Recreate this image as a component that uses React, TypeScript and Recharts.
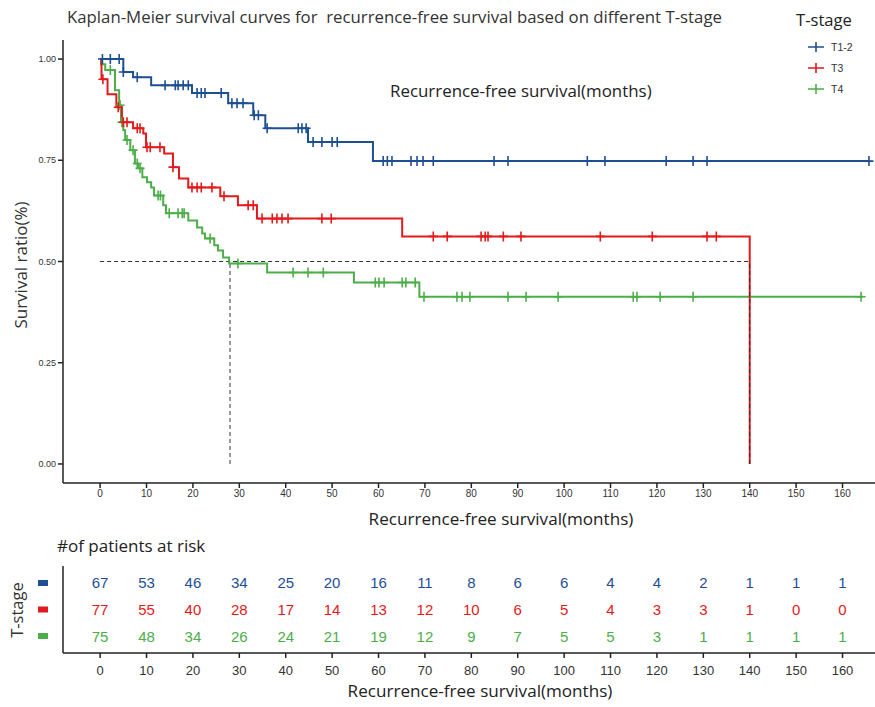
import React from "react";
import {
  ComposedChart,
  Line,
  Scatter,
  XAxis,
  YAxis,
  ReferenceLine,
} from "recharts";

// ---------- data ----------
const monthTicks = [0, 10, 20, 30, 40, 50, 60, 70, 80, 90, 100, 110, 120, 130, 140, 150, 160];
const survTicks = [0, 0.25, 0.5, 0.75, 1];

// step points (time in months, survival)
const t12Steps = [
  { t: 0, s: 1.0 }, { t: 5.0, s: 0.968 }, { t: 7.1, s: 0.955 }, { t: 11.0, s: 0.935 },
  { t: 19.8, s: 0.916 }, { t: 27.6, s: 0.891 }, { t: 33.0, s: 0.861 }, { t: 35.6, s: 0.829 },
  { t: 44.8, s: 0.795 }, { t: 58.8, s: 0.748 }, { t: 166, s: 0.748 },
];
const t12Censor = [
  { t: 0.5, s: 1.0 }, { t: 2.2, s: 1.0 }, { t: 4.1, s: 1.0 }, { t: 5.0, s: 0.968 }, { t: 8.0, s: 0.955 },
  { t: 14.0, s: 0.935 }, { t: 16.2, s: 0.935 }, { t: 16.8, s: 0.935 }, { t: 17.9, s: 0.935 }, { t: 19.0, s: 0.935 },
  { t: 20.9, s: 0.916 }, { t: 21.8, s: 0.916 }, { t: 22.6, s: 0.916 }, { t: 26.1, s: 0.916 },
  { t: 28.4, s: 0.891 }, { t: 29.5, s: 0.891 }, { t: 30.8, s: 0.891 },
  { t: 33.2, s: 0.861 }, { t: 34.1, s: 0.861 },
  { t: 36.0, s: 0.829 }, { t: 42.7, s: 0.829 }, { t: 43.5, s: 0.829 }, { t: 44.4, s: 0.829 },
  { t: 45.9, s: 0.795 }, { t: 47.8, s: 0.795 }, { t: 50.0, s: 0.795 }, { t: 51.1, s: 0.795 },
  { t: 61.0, s: 0.748 }, { t: 61.9, s: 0.748 }, { t: 62.9, s: 0.748 }, { t: 67.0, s: 0.748 },
  { t: 68.3, s: 0.748 }, { t: 69.6, s: 0.748 }, { t: 71.8, s: 0.748 }, { t: 84.9, s: 0.748 },
  { t: 87.9, s: 0.748 }, { t: 105.0, s: 0.748 }, { t: 108.8, s: 0.748 }, { t: 122.0, s: 0.748 },
  { t: 127.8, s: 0.748 }, { t: 130.8, s: 0.748 }, { t: 165.7, s: 0.748 },
];

const t3Steps = [
  { t: 0, s: 1.0 }, { t: 0.3, s: 0.95 }, { t: 1.6, s: 0.913 }, { t: 3.5, s: 0.881 },
  { t: 4.7, s: 0.844 }, { t: 7.1, s: 0.829 }, { t: 9.3, s: 0.816 }, { t: 9.9, s: 0.782 },
  { t: 13.8, s: 0.767 }, { t: 15.7, s: 0.733 }, { t: 17.0, s: 0.705 }, { t: 19.0, s: 0.683 },
  { t: 25.9, s: 0.661 }, { t: 29.7, s: 0.639 }, { t: 33.8, s: 0.606 }, { t: 65.1, s: 0.562 },
  { t: 140, s: 0 },
];
const t3Censor = [
  { t: 0.6, s: 0.95 }, { t: 3.9, s: 0.881 }, { t: 5.0, s: 0.844 }, { t: 5.8, s: 0.844 },
  { t: 8.0, s: 0.829 }, { t: 8.6, s: 0.829 }, { t: 10.1, s: 0.782 }, { t: 10.8, s: 0.782 },
  { t: 12.9, s: 0.782 }, { t: 15.7, s: 0.733 }, { t: 19.8, s: 0.683 }, { t: 20.9, s: 0.683 },
  { t: 21.8, s: 0.683 }, { t: 24.1, s: 0.683 }, { t: 26.7, s: 0.661 }, { t: 31.9, s: 0.639 },
  { t: 33.0, s: 0.639 }, { t: 34.9, s: 0.606 }, { t: 37.1, s: 0.606 }, { t: 38.1, s: 0.606 },
  { t: 39.2, s: 0.606 }, { t: 40.5, s: 0.606 }, { t: 47.8, s: 0.606 }, { t: 49.8, s: 0.606 },
  { t: 71.8, s: 0.562 }, { t: 74.8, s: 0.562 }, { t: 82.1, s: 0.562 }, { t: 83.0, s: 0.562 },
  { t: 83.6, s: 0.562 }, { t: 86.9, s: 0.562 }, { t: 90.7, s: 0.562 }, { t: 107.8, s: 0.562 },
  { t: 119.0, s: 0.562 }, { t: 130.8, s: 0.562 }, { t: 132.8, s: 0.562 },
];

const t4Steps = [
  { t: 0, s: 1.0 }, { t: 0.2, s: 0.987 }, { t: 1.1, s: 0.973 }, { t: 3.2, s: 0.923 },
  { t: 4.1, s: 0.886 }, { t: 4.5, s: 0.844 }, { t: 5.0, s: 0.824 }, { t: 5.4, s: 0.8 },
  { t: 6.5, s: 0.775 }, { t: 7.5, s: 0.742 }, { t: 8.2, s: 0.73 }, { t: 9.1, s: 0.708 },
  { t: 10.1, s: 0.696 }, { t: 11.0, s: 0.683 }, { t: 11.6, s: 0.663 }, { t: 13.6, s: 0.639 },
  { t: 14.2, s: 0.619 }, { t: 19.0, s: 0.601 }, { t: 20.9, s: 0.584 }, { t: 22.0, s: 0.569 },
  { t: 22.6, s: 0.557 }, { t: 24.6, s: 0.54 }, { t: 25.4, s: 0.527 }, { t: 26.5, s: 0.51 },
  { t: 27.8, s: 0.495 }, { t: 36.0, s: 0.473 }, { t: 54.7, s: 0.448 }, { t: 68.8, s: 0.413 },
  { t: 164.4, s: 0.413 },
];
const t4Censor = [
  { t: 2.2, s: 0.973 }, { t: 4.3, s: 0.886 }, { t: 4.7, s: 0.844 }, { t: 5.8, s: 0.8 },
  { t: 7.1, s: 0.775 }, { t: 8.0, s: 0.742 }, { t: 8.6, s: 0.73 }, { t: 12.5, s: 0.663 },
  { t: 13.0, s: 0.663 }, { t: 14.9, s: 0.619 }, { t: 16.8, s: 0.619 }, { t: 17.7, s: 0.619 },
  { t: 18.1, s: 0.619 }, { t: 23.7, s: 0.557 }, { t: 29.7, s: 0.495 }, { t: 41.6, s: 0.473 },
  { t: 44.8, s: 0.473 }, { t: 48.1, s: 0.473 }, { t: 59.3, s: 0.448 }, { t: 60.1, s: 0.448 },
  { t: 61.2, s: 0.448 }, { t: 65.1, s: 0.448 }, { t: 65.9, s: 0.448 }, { t: 67.9, s: 0.448 },
  { t: 69.8, s: 0.413 }, { t: 76.9, s: 0.413 }, { t: 78.0, s: 0.413 }, { t: 79.7, s: 0.413 },
  { t: 87.9, s: 0.413 }, { t: 91.8, s: 0.413 }, { t: 98.7, s: 0.413 }, { t: 114.9, s: 0.413 },
  { t: 115.7, s: 0.413 }, { t: 120.7, s: 0.413 }, { t: 127.8, s: 0.413 }, { t: 164.0, s: 0.413 },
];

const riskT12 = [67, 53, 46, 34, 25, 20, 16, 11, 8, 6, 6, 4, 4, 2, 1, 1, 1];
const riskT3 = [77, 55, 40, 28, 17, 14, 13, 12, 10, 6, 5, 4, 3, 3, 1, 0, 0];
const riskT4 = [75, 48, 34, 26, 24, 21, 19, 12, 9, 7, 5, 5, 3, 1, 1, 1, 1];

const medianTime = 28;
const lastT3Time = 140;

// ---------- styles ----------
const BLUE = "#1f4f93";
const RED = "#e31a1c";
const GREEN = "#4cae49";
const AXIS = "#222";
const SANS = "'Open Sans', 'Noto Sans', sans-serif";
const NARROW = "'Liberation Sans Narrow', 'Arial Narrow', 'Liberation Sans', sans-serif";

const plusShape = (color: string) => (props: any) => {
  const { cx, cy } = props;
  if (cx == null || cy == null) return <g />;
  return (
    <path
      d={`M${cx - 4.5},${cy} h9 M${cx},${cy - 5} v10`}
      stroke={color}
      strokeWidth={1.6}
      fill="none"
    />
  );
};

const numShape = (color: string) => (props: any) => {
  const { cx, cy, payload } = props;
  return (
    <text
      x={cx}
      y={cy}
      textAnchor="middle"
      dominantBaseline="central"
      fill={color}
      fontSize={15}
      fontFamily="'Liberation Sans', Arial, sans-serif"
    >
      {payload.n}
    </text>
  );
};

const rowColors: Record<number, string> = { 3: BLUE, 2: RED, 1: GREEN };
const RowTick = (props: any) => {
  const { y, payload } = props;
  return <rect x={38} y={y - 3} width={10} height={6} fill={rowColors[payload.value]} />;
};

const abs = (style: React.CSSProperties): React.CSSProperties => ({
  position: "absolute",
  whiteSpace: "nowrap",
  lineHeight: 1,
  ...style,
});

export default function App() {
  const riskData = (vals: number[], row: number) =>
    vals.map((n, i) => ({ t: monthTicks[i], row, n }));

  return (
    <div
      style={{
        position: "absolute",
        left: 0,
        top: 0,
        width: 875,
        height: 707,
        background: "#fff",
        overflow: "hidden",
      }}
    >
      <div style={abs({ left: 0, top: 0 })}>
        <ComposedChart width={875} height={530} margin={{ top: 40, right: 0, left: 0, bottom: 0 }}>
          <XAxis
            dataKey="t"
            type="number"
            domain={[-8, 167]}
            ticks={monthTicks}
            allowDataOverflow
            height={47}
            stroke={AXIS}
            strokeWidth={1.5}
            tickSize={5}
            tickMargin={2}
            tick={{ fontSize: 10, fill: "#333", fontFamily: NARROW }}
            tickLine={{ stroke: AXIS }}
          />
          <YAxis
            type="number"
            domain={[-0.047, 1.047]}
            ticks={survTicks}
            allowDataOverflow
            width={63}
            stroke={AXIS}
            strokeWidth={1.5}
            tickSize={5}
            tickMargin={2}
            tickFormatter={(v: number) => v.toFixed(2)}
            tick={{ fontSize: 9, fill: "#333", fontFamily: NARROW }}
            tickLine={{ stroke: AXIS }}
          />
          <ReferenceLine
            segment={[{ x: 0, y: 0.5 }, { x: lastT3Time, y: 0.5 }]}
            stroke="#333"
            strokeDasharray="4 3"
            strokeWidth={1}
          />
          <ReferenceLine
            segment={[{ x: medianTime, y: 0 }, { x: medianTime, y: 0.5 }]}
            stroke="#333"
            strokeDasharray="4 3"
            strokeWidth={1}
          />
          <Line data={t4Steps} dataKey="s" type="stepAfter" stroke={GREEN} strokeWidth={2} dot={false} isAnimationActive={false} />
          <Line data={t3Steps} dataKey="s" type="stepAfter" stroke={RED} strokeWidth={2} dot={false} isAnimationActive={false} />
          <Line data={t12Steps} dataKey="s" type="stepAfter" stroke={BLUE} strokeWidth={2} dot={false} isAnimationActive={false} />
          <ReferenceLine
            segment={[{ x: lastT3Time, y: 0 }, { x: lastT3Time, y: 0.5 }]}
            stroke="#333"
            strokeDasharray="4 3"
            strokeWidth={1}
          />
          <Scatter data={t4Censor} dataKey="s" shape={plusShape(GREEN)} isAnimationActive={false} />
          <Scatter data={t3Censor} dataKey="s" shape={plusShape(RED)} isAnimationActive={false} />
          <Scatter data={t12Censor} dataKey="s" shape={plusShape(BLUE)} isAnimationActive={false} />
        </ComposedChart>
      </div>

      <div style={abs({ left: 0, top: 540 })}>
        <ComposedChart width={875} height={167} margin={{ top: 26, right: 0, left: 0, bottom: 0 }}>
          <XAxis
            dataKey="t"
            type="number"
            domain={[-8, 167]}
            ticks={monthTicks}
            allowDataOverflow
            height={54}
            stroke={AXIS}
            strokeWidth={1.5}
            tickSize={5}
            tickMargin={8}
            tick={{ fontSize: 13, fill: "#333", fontFamily: NARROW }}
            tickLine={{ stroke: AXIS }}
          />
          <YAxis
            type="number"
            domain={[0.36, 3.64]}
            ticks={[1, 2, 3]}
            width={63}
            stroke={AXIS}
            strokeWidth={1.5}
            tickLine={false}
            tick={<RowTick />}
          />
          <Scatter data={riskData(riskT12, 3)} dataKey="row" shape={numShape(BLUE)} isAnimationActive={false} />
          <Scatter data={riskData(riskT3, 2)} dataKey="row" shape={numShape(RED)} isAnimationActive={false} />
          <Scatter data={riskData(riskT4, 1)} dataKey="row" shape={numShape(GREEN)} isAnimationActive={false} />
        </ComposedChart>
      </div>

      {/* texts */}
      <div style={abs({ left: 67, top: 9, fontSize: 16.8, fontFamily: SANS, color: "#333" })}>
        Kaplan-Meier survival curves for&nbsp; recurrence-free survival based on different T-stage
      </div>
      <div style={abs({ left: 796, top: 12, fontSize: 16.6, fontFamily: SANS, color: "#222" })}>T-stage</div>
      {[
        { label: "T1-2", color: BLUE, y: 47 },
        { label: "T3", color: RED, y: 68 },
        { label: "T4", color: GREEN, y: 89 },
      ].map((it) => (
        <div key={it.label} style={abs({ left: 806, top: it.y - 6, height: 12 })}>
          <svg width={20} height={12} style={{ position: "absolute", left: 0, top: 0 }}>
            <path d="M2,6 h16 M10,1 v10" stroke={it.color} strokeWidth={1.6} />
          </svg>
          <span
            style={{
              position: "absolute",
              left: 25,
              top: 0,
              fontSize: 10.5,
              lineHeight: "12px",
              fontFamily: "'Liberation Sans', Arial, sans-serif",
              color: "#333",
            }}
          >
            {it.label}
          </span>
        </div>
      ))}
      <div style={abs({ left: 390, top: 83, fontSize: 16.9, fontFamily: SANS, color: "#222" })}>
        Recurrence-free survival(months)
      </div>
      <div
        style={abs({
          left: 20,
          top: 265,
          fontSize: 17,
          fontFamily: SANS,
          color: "#333",
          transform: "translate(-50%, -50%) rotate(-90deg)",
        })}
      >
        Survival ratio(%)
      </div>
      <div
        style={abs({
          left: 501,
          top: 519,
          fontSize: 17.1,
          fontFamily: SANS,
          color: "#222",
          transform: "translate(-50%, -50%)",
        })}
      >
        Recurrence-free survival(months)
      </div>
      <div style={abs({ left: 57, top: 537, fontSize: 17, fontFamily: SANS, color: "#222" })}>
        #of patients at risk
      </div>
      <div
        style={abs({
          left: 17,
          top: 610,
          fontSize: 16.5,
          fontFamily: SANS,
          color: "#333",
          transform: "translate(-50%, -50%) rotate(-90deg)",
        })}
      >
        T-stage
      </div>
      <div
        style={abs({
          left: 480,
          top: 691,
          fontSize: 17.1,
          fontFamily: SANS,
          color: "#222",
          transform: "translate(-50%, -50%)",
        })}
      >
        Recurrence-free survival(months)
      </div>
    </div>
  );
}
